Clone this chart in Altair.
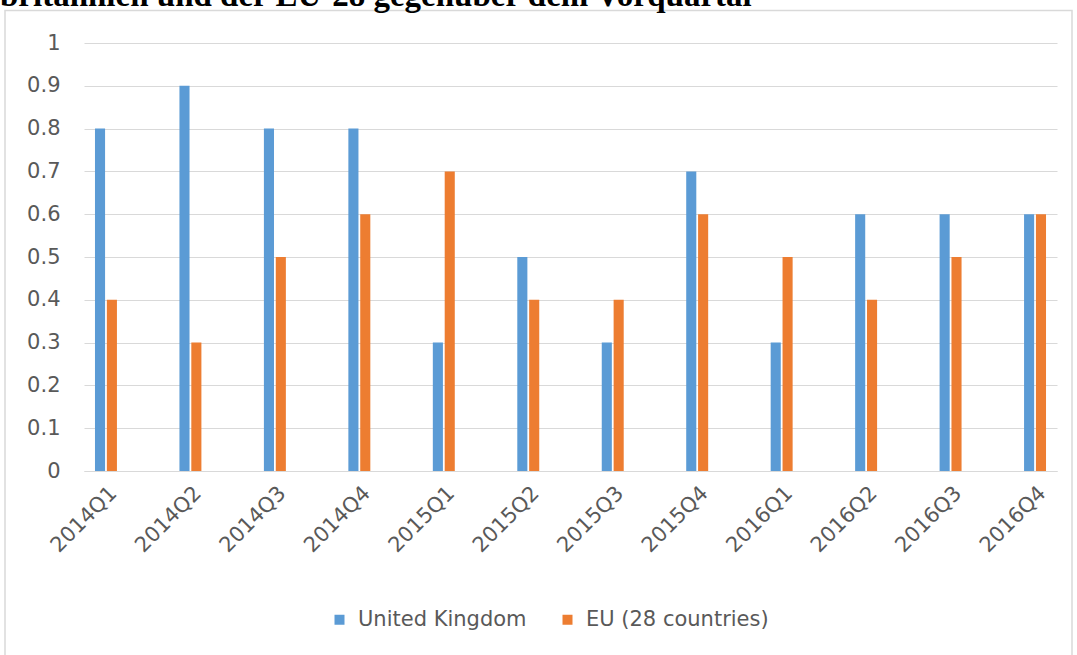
import altair as alt
import pandas as pd

quarters = ["2014Q1", "2014Q2", "2014Q3", "2014Q4", "2015Q1", "2015Q2",
            "2015Q3", "2015Q4", "2016Q1", "2016Q2", "2016Q3", "2016Q4"]
uk = [0.8, 0.9, 0.8, 0.8, 0.3, 0.5, 0.3, 0.7, 0.3, 0.6, 0.6, 0.6]
eu = [0.4, 0.3, 0.5, 0.6, 0.7, 0.4, 0.4, 0.6, 0.5, 0.4, 0.5, 0.6]
series = ["United Kingdom", "EU (28 countries)"]
colors = ["#5B9BD5", "#ED7D31"]
y_ticks = [0, 0.1, 0.2, 0.3, 0.4, 0.5, 0.6, 0.7, 0.8, 0.9, 1]
title_text = "britannien und der EU-28 gegenüber dem Vorquartal"

rows = []
for q, a, b in zip(quarters, uk, eu):
    rows.append({"quarter": q, "series": series[0], "value": a})
    rows.append({"quarter": q, "series": series[1], "value": b})
df = pd.DataFrame(rows)

FONT = "DejaVu Sans"
FS = 21
GRAY = "#595959"

bars = alt.Chart(df).mark_bar().encode(
    x=alt.X("quarter:N", sort=quarters, title=None,
            scale=alt.Scale(paddingInner=0.74, paddingOuter=0.13),
            axis=alt.Axis(labelAngle=-45, labelFontSize=FS, labelColor=GRAY,
                          labelFont=FONT, ticks=False, domainColor="#D9D9D9",
                          domainWidth=1, labelPadding=11)),
    xOffset=alt.XOffset("series:N", sort=series, scale=alt.Scale(paddingInner=0.15)),
    y=alt.Y("value:Q", title=None, scale=alt.Scale(domain=[0, 1]),
            axis=alt.Axis(values=y_ticks, format="~g", labelFontSize=FS,
                          labelColor=GRAY, labelFont=FONT, ticks=False,
                          domain=False, gridColor="#D9D9D9", gridWidth=1,
                          labelPadding=24)),
    color=alt.Color("series:N", sort=series,
                    scale=alt.Scale(domain=series, range=colors),
                    legend=alt.Legend(title=None, orient="none", direction="horizontal",
                                      legendX=245, legendY=566,
                                      symbolType="square", symbolSize=100,
                                      symbolStrokeWidth=0, labelLimit=400,
                                      labelFontSize=FS, labelColor=GRAY, labelFont=FONT,
                                      columnPadding=30, labelOffset=8)),
)

border = alt.Chart(alt.Data(values=[{"k": 1}])).mark_rect(
    fillOpacity=0, stroke="#D9D9D9", strokeWidth=1.5
).encode(x=alt.value(-79), x2=alt.value(988), y=alt.value(-32.5), y2=alt.value(700))

title = alt.Chart(alt.Data(values=[{"t": title_text}])).mark_text(
    font="Liberation Serif", fontWeight="bold", fontSize=33, align="left",
    baseline="alphabetic", color="#000000"
).encode(x=alt.value(-84), y=alt.value(-37), text="t:N")

chart = alt.layer(border, bars, title).properties(
    width=973, height=428,
    padding={"left": 84, "top": 43, "right": 20, "bottom": 184},
    autosize=alt.AutoSizeParams(type="none"),
).configure_view(stroke=None)

chart.save("out.html", embed_options={"renderer": "svg", "actions": False})
